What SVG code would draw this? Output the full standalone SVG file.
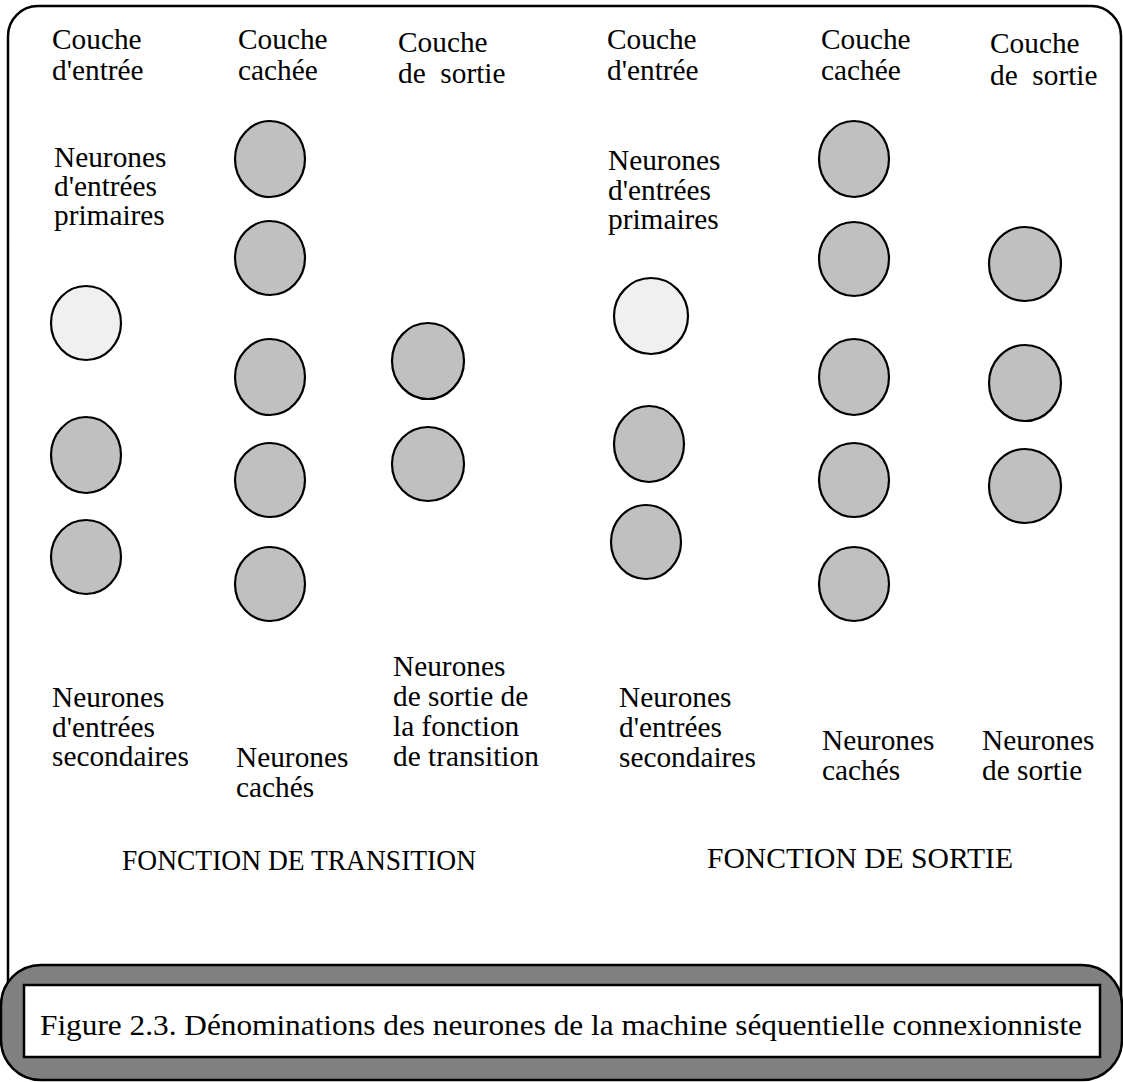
<svg xmlns="http://www.w3.org/2000/svg" width="1123" height="1082" viewBox="0 0 1123 1082">
<style>
.t{font-family:'Liberation Serif','Times New Roman',serif;font-size:29.33px;fill:#000}
.n{stroke:#000;stroke-width:2.2;fill:#c0c0c0}
.p{stroke:#000;stroke-width:2.2;fill:#f0f0f0}
</style>
<rect x="0" y="0" width="1123" height="1082" fill="#fff"/>
<g id="frame">
<rect x="8" y="6" width="1113" height="1040" rx="30" fill="none" stroke="#000" stroke-width="2.5"/>
</g>
<g class="t">
<g id="labels-top">
<text x="52" y="49">Couche</text><text x="52" y="80">d'entrée</text>
<text x="238" y="49">Couche</text><text x="238" y="80">cachée</text>
<text x="398" y="52">Couche</text><text x="398" y="83" xml:space="preserve">de  sortie</text>
<text x="607" y="49">Couche</text><text x="607" y="80">d'entrée</text>
<text x="821" y="49">Couche</text><text x="821" y="80">cachée</text>
<text x="990" y="53">Couche</text><text x="990" y="85" xml:space="preserve">de  sortie</text>
</g>
<g id="label-primaires-1"><text x="54" y="167">Neurones</text><text x="54" y="196">d'entrées</text><text x="54" y="225">primaires</text></g>
<g id="label-primaires-2"><text x="608" y="170">Neurones</text><text x="608" y="200">d'entrées</text><text x="608" y="229">primaires</text></g>
<g id="labels-bottom">
<text x="52" y="707">Neurones</text><text x="52" y="737">d'entrées</text><text x="52" y="766">secondaires</text>
<text x="236" y="767">Neurones</text><text x="236" y="797">cachés</text>
<text x="393" y="676">Neurones</text><text x="393" y="706">de sortie de</text><text x="393" y="736">la fonction</text><text x="393" y="766">de transition</text>
<text x="619" y="707">Neurones</text><text x="619" y="737">d'entrées</text><text x="619" y="767">secondaires</text>
<text x="822" y="750">Neurones</text><text x="822" y="780">cachés</text>
<text x="982" y="750">Neurones</text><text x="982" y="780">de sortie</text>
</g>
<g id="titles">
<text x="122" y="870" textLength="354" lengthAdjust="spacingAndGlyphs">FONCTION DE TRANSITION</text>
<text x="707" y="868" textLength="306" lengthAdjust="spacingAndGlyphs">FONCTION DE SORTIE</text>
</g>
</g>
<g id="neurons-transition">
<g id="t-in-1"><ellipse class="p" cx="86" cy="323" rx="35" ry="37"/></g>
<g id="t-in-2"><ellipse class="n" cx="86" cy="455" rx="35" ry="38"/></g>
<g id="t-in-3"><ellipse class="n" cx="86" cy="557" rx="35" ry="37"/></g>
<g id="t-h-1"><ellipse class="n" cx="270" cy="159" rx="35" ry="38"/></g>
<g id="t-h-2"><ellipse class="n" cx="270" cy="258" rx="35" ry="37"/></g>
<g id="t-h-3"><ellipse class="n" cx="270" cy="377" rx="35" ry="38"/></g>
<g id="t-h-4"><ellipse class="n" cx="270" cy="480" rx="35" ry="37"/></g>
<g id="t-h-5"><ellipse class="n" cx="270" cy="584" rx="35" ry="37"/></g>
<g id="t-out-1"><ellipse class="n" cx="428" cy="361" rx="36" ry="38"/></g>
<g id="t-out-2"><ellipse class="n" cx="428" cy="464" rx="36" ry="37"/></g>
</g>
<g id="neurons-sortie">
<g id="s-in-1"><ellipse class="p" cx="651" cy="316" rx="37" ry="38"/></g>
<g id="s-in-2"><ellipse class="n" cx="649" cy="444" rx="35" ry="38"/></g>
<g id="s-in-3"><ellipse class="n" cx="646" cy="542" rx="35" ry="37"/></g>
<g id="s-h-1"><ellipse class="n" cx="854" cy="159" rx="35" ry="38"/></g>
<g id="s-h-2"><ellipse class="n" cx="854" cy="259" rx="35" ry="37"/></g>
<g id="s-h-3"><ellipse class="n" cx="854" cy="377" rx="35" ry="38"/></g>
<g id="s-h-4"><ellipse class="n" cx="854" cy="480" rx="35" ry="37"/></g>
<g id="s-h-5"><ellipse class="n" cx="854" cy="584" rx="35" ry="37"/></g>
<g id="s-out-1"><ellipse class="n" cx="1025" cy="264" rx="36" ry="37"/></g>
<g id="s-out-2"><ellipse class="n" cx="1025" cy="383" rx="36" ry="38"/></g>
<g id="s-out-3"><ellipse class="n" cx="1025" cy="486" rx="36" ry="37"/></g>
</g>
<g id="caption">
<rect x="1" y="965" width="1121" height="115" rx="40" fill="#808080" stroke="#000" stroke-width="2.5"/>
<rect x="24" y="985" width="1076" height="72" fill="#fff" stroke="#000" stroke-width="2.5"/>
<text class="t" x="40" y="1035" textLength="1042" lengthAdjust="spacingAndGlyphs">Figure 2.3. Dénominations des neurones de la machine séquentielle connexionniste</text>
</g>
<g id="connectors"></g>
</svg>
